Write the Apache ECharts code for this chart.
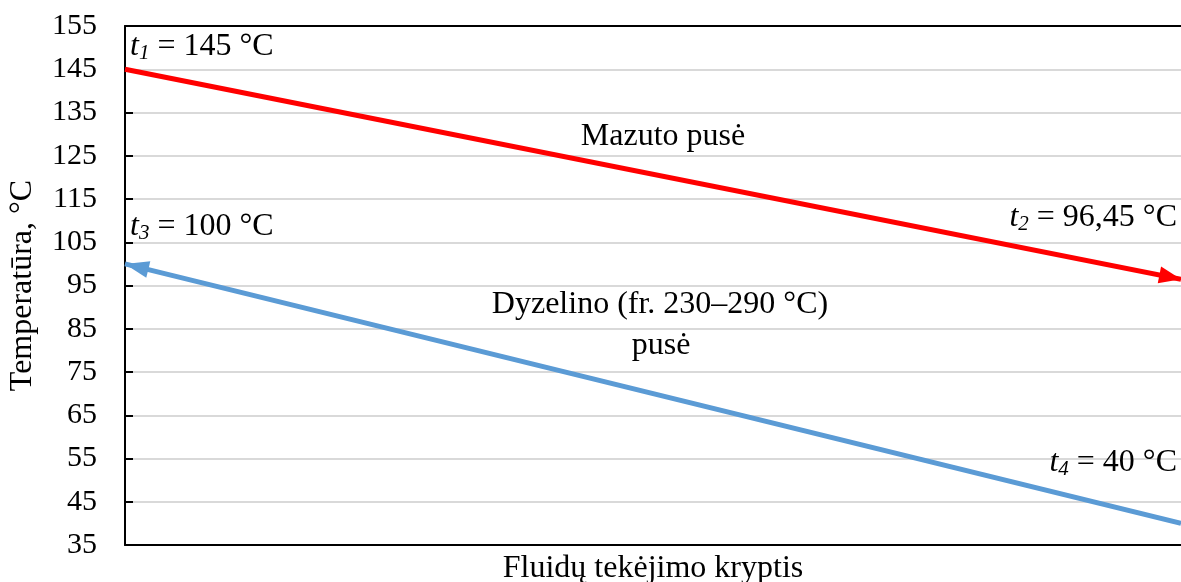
<!DOCTYPE html>
<html>
<head>
<meta charset="utf-8">
<script src="https://cdn.jsdelivr.net/npm/echarts@6/dist/echarts.min.js"></script>
<style>html,body{margin:0;padding:0;background:#fff}#c{width:1181px;height:582px}</style>
</head>
<body>
<div id="c"></div>
<script>
// Data
const yTicks = [35, 45, 55, 65, 75, 85, 95, 105, 115, 125, 135, 145, 155];
const xPos = [0, 1];                 // flow direction: start, end
const mazutoTemps = [145, 96.45];    // t1 -> t2 (left to right)
const dyzelinoTemps = [40, 100];     // t4 -> t3 (right to left, counterflow)
const yTitle = 'Temperatūra, °C';
const xTitle = 'Fluidų tekėjimo kryptis';

const FONT = '"Liberation Serif","Times New Roman",serif';
const chart = echarts.init(document.getElementById('c'), null, {renderer: 'canvas'});

const redPts = [[xPos[0], mazutoTemps[0]], [xPos[1], mazutoTemps[1]]];
const bluePts = [[xPos[1], dyzelinoTemps[0]], [xPos[0], dyzelinoTemps[1]]];
const arrowPath = 'path://M0,0 L10,24 L-10,24 Z';

const richT = {
  i: {fontFamily: FONT, fontStyle: 'italic', fontSize: 32, color: '#000'},
  s: {fontFamily: FONT, fontStyle: 'italic', fontSize: 21, color: '#000', padding: [12, 0, 0, 0]},
  n: {fontFamily: FONT, fontSize: 32, color: '#000'}
};

function txt(x, y, text, align, rich) {
  return {
    type: 'text', x: x, y: y, z: 100,
    style: {
      text: text, x: 0, y: 0, align: align, verticalAlign: 'middle',
      font: '32px ' + FONT, fill: '#000', rich: rich
    }
  };
}

chart.setOption({
  animation: false,
  backgroundColor: '#fff',
  grid: {left: 125, right: 0, top: 26, bottom: 37, containLabel: false, outerBoundsMode: 'none'},
  xAxis: [{
    type: 'value', min: 0, max: 1,
    name: xTitle, nameLocation: 'middle', nameGap: 8,
    nameTextStyle: {fontFamily: FONT, fontSize: 32, color: '#000'},
    axisLine: {show: true, onZero: false, lineStyle: {color: '#000', width: 2}},
    axisTick: {show: false}, axisLabel: {show: false}, splitLine: {show: false}
  }, {
    type: 'value', min: 0, max: 1, position: 'top',
    axisLine: {show: true, onZero: false, lineStyle: {color: '#000', width: 2}},
    axisTick: {show: false}, axisLabel: {show: false}, splitLine: {show: false}
  }],
  yAxis: {
    type: 'value', min: yTicks[0], max: yTicks[yTicks.length - 1], interval: 10,
    name: yTitle, nameLocation: 'middle', nameGap: 86, nameRotate: 90,
    nameTextStyle: {fontFamily: FONT, fontSize: 32, color: '#000'},
    axisLine: {show: true, lineStyle: {color: '#000', width: 2}},
    axisTick: {show: true, inside: true, length: 8, lineStyle: {color: '#000', width: 2}},
    axisLabel: {fontFamily: FONT, fontSize: 30, color: '#000', margin: 28},
    splitLine: {show: true, lineStyle: {color: '#D9D9D9', width: 2}}
  },
  series: [{
    type: 'line', data: redPts, showSymbol: false, silent: true, clip: false,
    lineStyle: {color: '#FF0000', width: 5},
    markLine: {
      silent: true, animation: false,
      symbol: ['none', arrowPath], symbolSize: [17, 22],
      symbolOffset: [[0, 0], [0, 11]],
      label: {show: false},
      lineStyle: {color: '#FF0000', width: 0, type: 'solid'},
      itemStyle: {color: '#FF0000'},
      data: [[{coord: redPts[0]}, {coord: redPts[1]}]]
    }
  }, {
    type: 'line', data: bluePts, showSymbol: false, silent: true, clip: false,
    lineStyle: {color: '#5B9BD5', width: 5},
    markLine: {
      silent: true, animation: false,
      symbol: ['none', arrowPath], symbolSize: [17, 24],
      symbolOffset: [[0, 0], [0, 12]],
      label: {show: false},
      lineStyle: {color: '#5B9BD5', width: 0, type: 'solid'},
      itemStyle: {color: '#5B9BD5'},
      data: [[{coord: bluePts[0]}, {coord: bluePts[1]}]]
    }
  }],
  graphic: [
    txt(130, 47, '{i|t}{s|1}{n| = 145 °C}', 'left', richT),
    txt(130, 227, '{i|t}{s|3}{n| = 100 °C}', 'left', richT),
    txt(1177, 218, '{i|t}{s|2}{n| = 96,45 °C}', 'right', richT),
    txt(1177, 463, '{i|t}{s|4}{n| = 40 °C}', 'right', richT),
    txt(663, 137, 'Mazuto pusė', 'center'),
    txt(660, 305, 'Dyzelino (fr. 230–290 °C)', 'center'),
    txt(661, 346, 'pusė', 'center')
  ]
});
</script>
</body>
</html>
